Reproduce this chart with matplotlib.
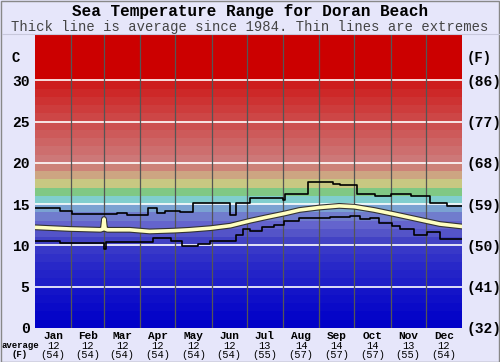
import matplotlib
matplotlib.use('Agg')
from matplotlib import pyplot as plt
import matplotlib.patheffects as pe
from matplotlib.patches import Rectangle

plt.rcParams['font.family'] = ['Liberation Mono', 'DejaVu Sans Mono']

# day of year -> temperature (C)
max_days = [0, 21, 32, 67, 70, 79, 97, 104, 111, 124, 135, 156, 167, 172, 184,
            212, 214, 232, 233, 255, 261, 275, 291, 304, 321, 338, 352, 365]
max_temp = [14.6, 14.2, 13.8, 13.8, 13.9, 13.7, 14.5, 13.9, 14.2, 14.0, 15.2, 15.1,
            13.7, 15.2, 15.8, 15.5, 16.3, 16.3, 17.7, 17.5, 17.3, 16.3, 16.0, 16.3,
            16.0, 15.2, 14.75, 14.75]

min_days = [0, 21, 58, 59, 61, 101, 116, 126, 139, 150, 172, 178, 184, 194, 204,
            213, 226, 252, 269, 278, 286, 294, 305, 312, 324, 335, 346, 365]
min_temp = [10.6, 10.3, 10.3, 9.6, 10.4, 10.9, 10.5, 9.9, 10.2, 10.6, 11.3, 12.0,
            11.7, 12.2, 12.5, 13.0, 13.3, 13.4, 13.6, 13.2, 13.3, 12.7, 12.4, 12.0,
            11.3, 11.6, 10.75, 10.75]

avg_days = [0, 30, 56, 58, 59, 59.5, 60, 62, 81, 98, 119, 132, 150, 167, 184, 197, 214,
            226, 243, 260, 273, 290, 307, 320, 333, 346, 365]
avg_temp = [12.2, 12.0, 11.9, 12.0, 13.2, 12.5, 12.0, 11.9, 11.9, 11.7, 11.8, 11.9, 12.1,
            12.4, 13.0, 13.4, 13.9, 14.3, 14.6, 14.8, 14.7, 14.3, 13.8, 13.4, 13.0,
            12.6, 12.3]

months = ['Jan', 'Feb', 'Mar', 'Apr', 'May', 'Jun', 'Jul', 'Aug', 'Sep', 'Oct', 'Nov', 'Dec']
month_start = [0, 31, 59, 90, 120, 151, 181, 212, 243, 273, 304, 334, 365]
month_avg_c = [12, 12, 12, 12, 12, 12, 13, 14, 14, 14, 13, 12]
month_avg_f = [54, 54, 54, 54, 54, 54, 55, 57, 57, 57, 55, 54]

c_ticks = [0, 5, 10, 15, 20, 25, 30]
f_labels = ['(32)', '(41)', '(50)', '(59)', '(68)', '(77)', '(86)']

band_rgb = [(0, 0, 200), (5, 5, 200), (10, 10, 200), (15, 15, 200), (20, 20, 200),
            (30, 30, 200), (35, 35, 200), (40, 40, 200), (48, 48, 200), (56, 56, 200),
            (66, 66, 196), (84, 84, 200), (100, 100, 205), (112, 124, 205),
            (122, 162, 210), (128, 206, 206), (128, 200, 132), (200, 200, 130),
            (205, 165, 130), (205, 130, 120)]
for i in range(10):
    band_rgb.append((205, 120 - i * 10, 120 - i * 10))
bg = '#e6e6fa'

fig = plt.figure(figsize=(5.0, 3.62), dpi=100, facecolor=bg)
fig.patches.append(Rectangle((0.001, 0.001), 0.997, 0.997, transform=fig.transFigure,
                             fill=False, edgecolor='#888888', lw=1))
fig.add_artist(plt.Line2D([0.003, 0.997], [0.905, 0.905], color='#c8c8dc', lw=0.8))
ax = fig.add_axes([0.07, 0.094, 0.854, 0.809])
ax.set_xlim(0, 365)
ax.set_ylim(0, 35.5)

for i, c in enumerate(band_rgb):
    ax.axhspan(i, i + 1, color=[v / 255 for v in c], lw=0, zorder=0)
ax.axhspan(30, 36, color='#cc0000', lw=0, zorder=0)

for t in c_ticks[1:]:
    ax.axhline(t, color='white', lw=1.2, zorder=1)
for d in month_start[1:-1]:
    ax.axvline(d, color='#555555', lw=0.9, zorder=1)

ax.step(max_days, max_temp, where='post', color='black', lw=1.2, zorder=3)
ax.step(min_days, min_temp, where='post', color='black', lw=1.2, zorder=3)
ax.plot(avg_days, avg_temp, color='#ffffc0', lw=2.6, zorder=4,
        path_effects=[pe.Stroke(linewidth=4.2, foreground='#333333'), pe.Normal()])

ax.set_xticks([])
ax.set_yticks(c_ticks)
ax.set_yticklabels([str(t) for t in c_ticks], fontsize=10.5, fontweight='bold')
ax.tick_params(axis='y', length=0, pad=4)
for s in ax.spines.values():
    s.set_visible(False)

ax2 = ax.twinx()
ax2.set_ylim(0, 35.5)
ax2.set_yticks(c_ticks)
ax2.set_yticklabels(f_labels, fontsize=10.5, fontweight='bold')
ax2.tick_params(axis='y', length=0, pad=3)
for s in ax2.spines.values():
    s.set_visible(False)

ax.text(-0.045, 32.7, 'C', transform=ax.get_yaxis_transform(), ha='center', va='center',
        fontsize=10, fontweight='bold')
ax.text(1.04, 32.7, '(F)', transform=ax.get_yaxis_transform(), ha='center', va='center',
        fontsize=10, fontweight='bold')

for i, m in enumerate(months):
    mid = (month_start[i] + month_start[i + 1]) / 2
    ax.text(mid, -0.35, m, ha='center', va='top', fontsize=8, fontweight='bold')
    ax.text(mid, -1.55, str(month_avg_c[i]), ha='center', va='top', fontsize=7.5)
    ax.text(mid, -2.65, '(%d)' % month_avg_f[i], ha='center', va='top', fontsize=7.5)
ax.text(-0.035, -1.55, 'average', transform=ax.get_yaxis_transform(), ha='center',
        va='top', fontsize=6.5, fontweight='bold')
ax.text(-0.035, -2.65, '(F)', transform=ax.get_yaxis_transform(), ha='center',
        va='top', fontsize=6.5, fontweight='bold')

fig.text(0.5, 0.967, 'Sea Temperature Range for Doran Beach', ha='center', va='center',
         fontsize=11.5, fontweight='bold')
fig.text(0.5, 0.926, 'Thick line is average since 1984. Thin lines are extremes',
         ha='center', va='center', fontsize=10, color='#444444')

fig.savefig('out.png', dpi=100, facecolor=bg)
